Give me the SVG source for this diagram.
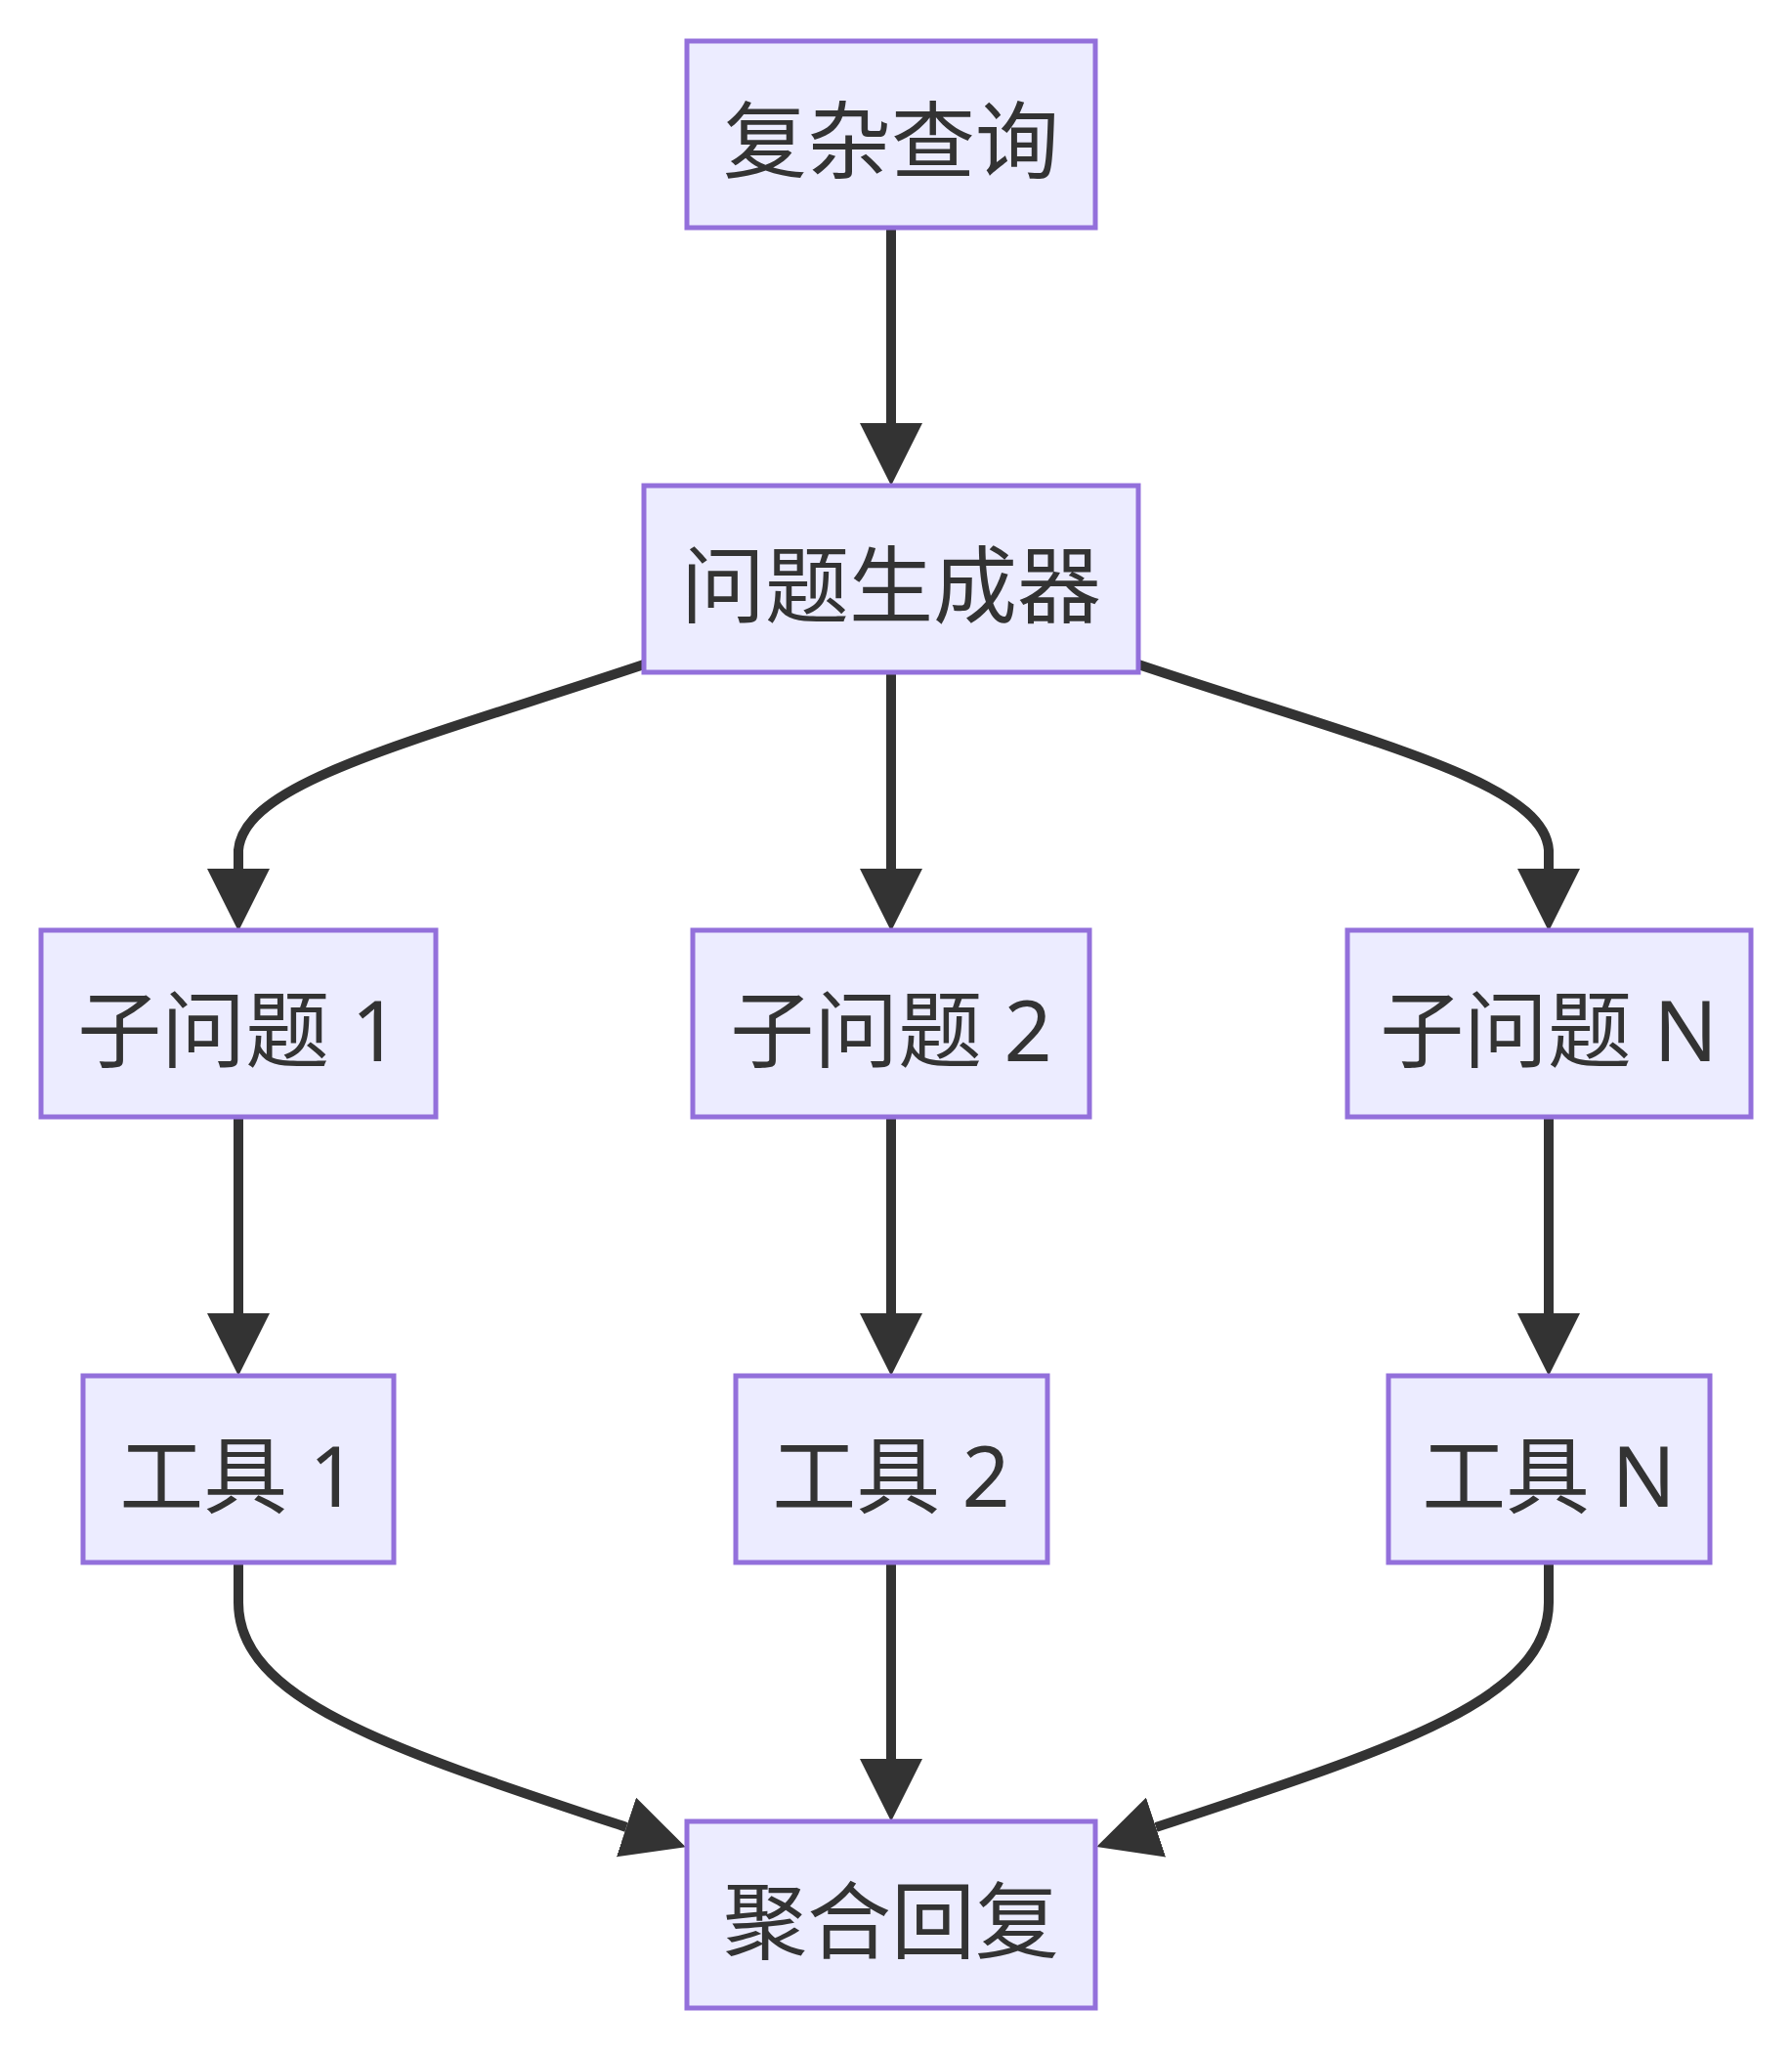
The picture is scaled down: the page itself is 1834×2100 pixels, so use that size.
<svg xmlns="http://www.w3.org/2000/svg" width="1834" height="2100" viewBox="0 0 1834 2100">
<style>
.node rect{fill:#ECECFF;stroke:#9370DB;stroke-width:5}
.node text{fill:#333333;font-family:"Noto Sans","Noto Sans CJK SC",sans-serif;font-size:86px;text-anchor:middle;dominant-baseline:central}
.edge{fill:none;stroke:#333333;stroke-width:10}
</style>
<defs>
<marker id="arr" viewBox="0 0 10 10" refX="0" refY="5" markerUnits="userSpaceOnUse" markerWidth="64" markerHeight="64" orient="auto">
<path d="M0,0 L10,5 L0,10 z" fill="#333333"/>
</marker>
</defs>
<rect width="1834" height="2100" fill="#ffffff"/>
<g id="connectors">
<path class="edge" marker-end="url(#arr)" d="M912,233 L912,433"/>
<path class="edge" marker-end="url(#arr)" d="M659,680 C420,760 250,800 244,870 L244,889"/>
<path class="edge" marker-end="url(#arr)" d="M912,688 L912,889"/>
<path class="edge" marker-end="url(#arr)" d="M1165,680 C1404,760 1580,800 1585,870 L1585,889"/>
<path class="edge" marker-end="url(#arr)" d="M244,1143 L244,1344"/>
<path class="edge" marker-end="url(#arr)" d="M912,1143 L912,1344"/>
<path class="edge" marker-end="url(#arr)" d="M1585,1143 L1585,1344"/>
<path class="edge" marker-end="url(#arr)" d="M244,1599 L244,1640 C244,1740 400,1790 641,1870"/>
<path class="edge" marker-end="url(#arr)" d="M912,1599 L912,1800"/>
<path class="edge" marker-end="url(#arr)" d="M1585,1599 L1585,1640 C1585,1740 1425,1790 1183,1870"/>
</g>
<g id="n_query" class="node"><rect x="703" y="42" width="418" height="191"/><text x="912" y="142">复杂查询</text></g>
<g id="n_gen" class="node"><rect x="659" y="497" width="506" height="191"/><text x="912" y="597">问题生成器</text></g>
<g id="n_sq1" class="node"><rect x="42" y="952" width="404" height="191"/><text x="244" y="1052">子问题 1</text></g>
<g id="n_sq2" class="node"><rect x="709" y="952" width="406" height="191"/><text x="912" y="1052">子问题 2</text></g>
<g id="n_sqn" class="node"><rect x="1379" y="952" width="413" height="191"/><text x="1585" y="1052">子问题 N</text></g>
<g id="n_t1" class="node"><rect x="85" y="1408" width="318" height="191"/><text x="244" y="1508">工具 1</text></g>
<g id="n_t2" class="node"><rect x="753" y="1408" width="319" height="191"/><text x="912" y="1508">工具 2</text></g>
<g id="n_tn" class="node"><rect x="1421" y="1408" width="329" height="191"/><text x="1585" y="1508">工具 N</text></g>
<g id="n_agg" class="node"><rect x="703" y="1864" width="418" height="191"/><text x="912" y="1964">聚合回复</text></g>
</svg>
